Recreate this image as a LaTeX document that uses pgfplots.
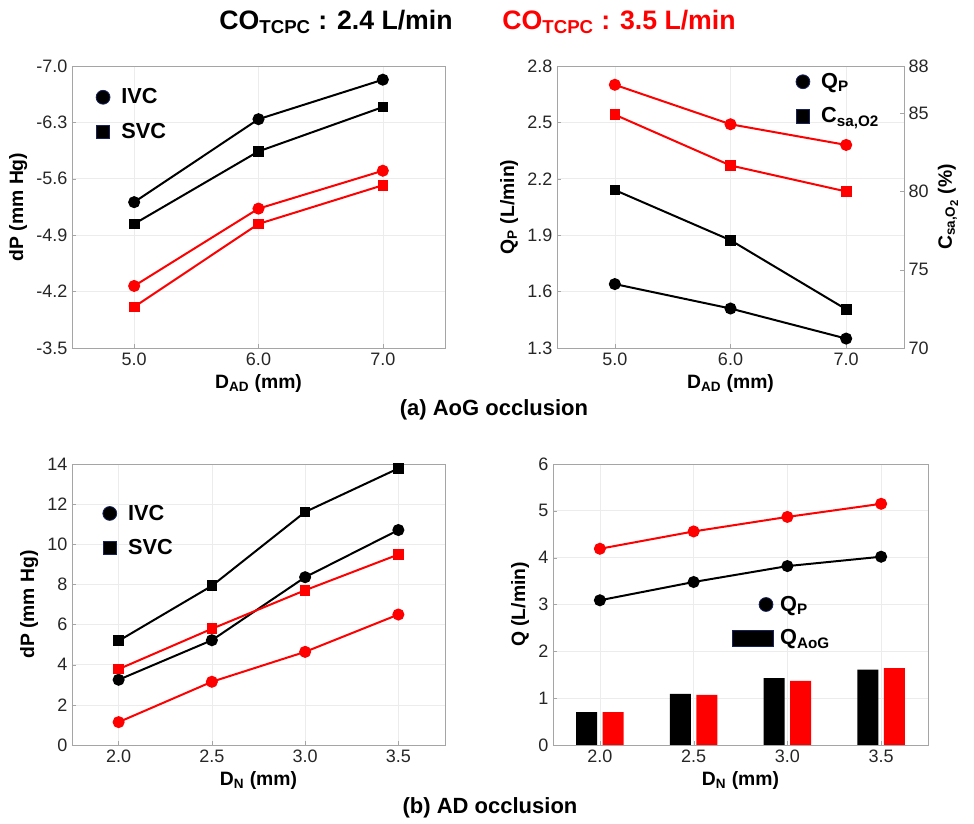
\documentclass[border=0pt]{standalone}
\usepackage{fontspec}
\setmainfont{Liberation Sans}
\usepackage{pgfplots}
\pgfplotsset{compat=1.18}
\definecolor{myred}{RGB}{255,0,0}
\definecolor{axgray}{RGB}{165,165,165}
\definecolor{gridgray}{RGB}{236,236,236}
\definecolor{legblue}{RGB}{25,35,90}
\pgfplotsset{
  base/.style={
    scale only axis,
    anchor=north west,
    axis line style={axgray, line width=0.6pt},
    grid=major,
    major grid style={gridgray, line width=0.5pt},
    tick style={axgray},
    tick align=inside,
    major tick length=3pt,
    xtick pos=bottom,
    /pgf/number format/assume math mode=true,
    ticklabel style={font=\fontsize{13.5}{15}\selectfont, text=black!85},
    label style={font=\bfseries\fontsize{14.5}{17}\selectfont},
    legend style={draw=none, fill=none, font=\bfseries\fontsize{16.3}{19}\selectfont,
      inner sep=0pt, row sep=9pt, nodes={inner sep=2pt},
      /tikz/every odd column/.append style={column sep=6.5pt}},
    legend cell align=left,
  },
  onedec/.style={/pgf/number format/.cd, fixed, fixed zerofill, precision=1},
  blk/.style={black, line width=1.5pt, mark options={solid}},
  rd/.style={myred, line width=1.5pt, mark options={solid}},
  circ/.style={mark=*, mark size=3.75pt},
  sq/.style={mark=square*, mark size=3.25pt},
  legc/.style={only marks, mark=*, mark size=5.2pt, mark options={fill=black, draw=legblue, line width=0.6pt}},
  legs/.style={only marks, mark=square*, mark size=5pt, mark options={fill=black, draw=legblue, line width=0.6pt}},
}
\begin{document}
\begin{tikzpicture}
\useasboundingbox (0,0) rectangle (730.5pt,618pt);

% titles
\node[font=\bfseries\fontsize{20}{24}\selectfont, text=black] at (252pt,601.5pt) {CO\textsubscript{TCPC} : 2.4 L/min};
\node[font=\bfseries\fontsize{20}{24}\selectfont, text=myred] at (464.25pt,601.5pt) {CO\textsubscript{TCPC} : 3.5 L/min};
\node[font=\bfseries\fontsize{16.5}{19}\selectfont] at (370.5pt,310.5pt) {(a) AoG occlusion};
\node[font=\bfseries\fontsize{16.5}{19}\selectfont] at (367.5pt,12pt) {(b) AD occlusion};

% ---------- top left
\begin{axis}[base, at={(54pt,568.5pt)}, width=279.75pt, height=211.5pt,
  xmin=4.5, xmax=7.5, ymin=-7, ymax=-3.5, y dir=reverse,
  xtick={5,6,7}, ytick={-7,-6.3,-5.6,-4.9,-4.2,-3.5},
  xticklabel style={onedec}, yticklabel style={onedec},
  ytick pos=left,
  xlabel={D\textsubscript{AD} (mm)}, ylabel={dP (mm Hg)},
  legend style={at={(0.064,0.93)}, anchor=north west}]
\addplot[blk, circ, forget plot] coordinates {(5,-5.31) (6,-6.34) (7,-6.83)};
\addplot[blk, sq, forget plot] coordinates {(5,-5.04) (6,-5.94) (7,-6.49)};
\addplot[rd, circ, forget plot] coordinates {(5,-4.27) (6,-5.23) (7,-5.70)};
\addplot[rd, sq, forget plot] coordinates {(5,-4.01) (6,-5.04) (7,-5.52)};
\addlegendimage{legc}\addlegendentry{IVC}
\addlegendimage{legs}\addlegendentry{SVC}
\end{axis}

% ---------- top right
\begin{axis}[base, at={(417.75pt,568.5pt)}, width=260.25pt, height=211.5pt,
  xmin=4.5, xmax=7.5, ymin=1.3, ymax=2.8,
  xtick={5,6,7}, ytick={1.3,1.6,1.9,2.2,2.5,2.8},
  xticklabel style={onedec}, yticklabel style={onedec},
  ytick pos=left,
  xlabel={D\textsubscript{AD} (mm)}, ylabel={Q\textsubscript{P} (L/min)},
  legend style={at={(0.688,0.985)}, anchor=north west}]
\addplot[blk, circ, forget plot] coordinates {(5,1.64) (6,1.51) (7,1.35)};
\addplot[rd, circ, forget plot] coordinates {(5,2.70) (6,2.49) (7,2.38)};
\addlegendimage{legc}\addlegendentry{Q\textsubscript{P}}
\addlegendimage{legs}\addlegendentry{C\textsubscript{sa,O2}}
\end{axis}
\begin{axis}[base, at={(417.75pt,568.5pt)}, width=260.25pt, height=211.5pt,
  xmin=4.5, xmax=7.5, ymin=70, ymax=88, grid=none,
  axis x line=none, axis y line*=right,
  ytick={70,75,80,85,88},
  ylabel={C\textsubscript{sa,O\raisebox{-2.5pt}{\fontsize{8.5}{9}\selectfont 2}} (\%)}]
\addplot[blk, sq] coordinates {(5,80.08) (6,76.88) (7,72.47)};
\addplot[rd, sq] coordinates {(5,84.89) (6,81.65) (7,79.99)};
\end{axis}

% ---------- bottom left
\begin{axis}[base, at={(54pt,270pt)}, width=279.75pt, height=210.75pt,
  xmin=1.75, xmax=3.75, ymin=0, ymax=14,
  xtick={2,2.5,3,3.5}, ytick={0,2,4,6,8,10,12,14},
  xticklabel style={onedec},
  ytick pos=left,
  xlabel={D\textsubscript{N} (mm)}, ylabel={dP (mm Hg)},
  legend style={at={(0.082,0.865)}, anchor=north west}]
\addplot[blk, sq, forget plot] coordinates {(2,5.19) (2.5,7.93) (3,11.61) (3.5,13.78)};
\addplot[blk, circ, forget plot] coordinates {(2,3.25) (2.5,5.22) (3,8.36) (3.5,10.71)};
\addplot[rd, sq, forget plot] coordinates {(2,3.78) (2.5,5.79) (3,7.71) (3.5,9.49)};
\addplot[rd, circ, forget plot] coordinates {(2,1.14) (2.5,3.15) (3,4.64) (3.5,6.50)};
\addlegendimage{legc}\addlegendentry{IVC}
\addlegendimage{legs}\addlegendentry{SVC}
\end{axis}

% ---------- bottom right
\begin{axis}[base, at={(414.75pt,270pt)}, width=281.25pt, height=210.75pt,
  xmin=1.75, xmax=3.75, ymin=0, ymax=6,
  xtick={2,2.5,3,3.5}, ytick={0,1,2,3,4,5,6},
  xticklabel style={onedec},
  ytick pos=left,
  xlabel={D\textsubscript{N} (mm)}, ylabel={Q (L/min)},
  legend style={at={(0.477,0.541)}, anchor=north west, row sep=8.5pt,
    /tikz/every odd column/.append style={column sep=2.5pt}}]
\addplot[ybar, fill=black, draw=none, bar width=0.112, bar shift=-0.071, forget plot] coordinates {(2,0.70) (2.5,1.09) (3,1.43) (3.5,1.61)};
\addplot[ybar, fill=myred, draw=none, bar width=0.112, bar shift=0.071, forget plot] coordinates {(2,0.70) (2.5,1.07) (3,1.37) (3.5,1.64)};
\addplot[rd, circ, forget plot] coordinates {(2,4.19) (2.5,4.56) (3,4.87) (3.5,5.15)};
\addplot[blk, circ, forget plot] coordinates {(2,3.09) (2.5,3.48) (3,3.82) (3.5,4.02)};
\addlegendimage{legend image code/.code={\filldraw[fill=black, draw=legblue, line width=0.6pt] (25pt,0pt) circle (5.2pt);}}
\addlegendentry{Q\textsubscript{P}}
\addlegendimage{legend image code/.code={\filldraw[fill=black, draw=legblue, line width=0.8pt] (0pt,-6pt) rectangle (30.75pt,6pt);}}
\addlegendentry{Q\textsubscript{AoG}}
\end{axis}
\end{tikzpicture}
\end{document}
